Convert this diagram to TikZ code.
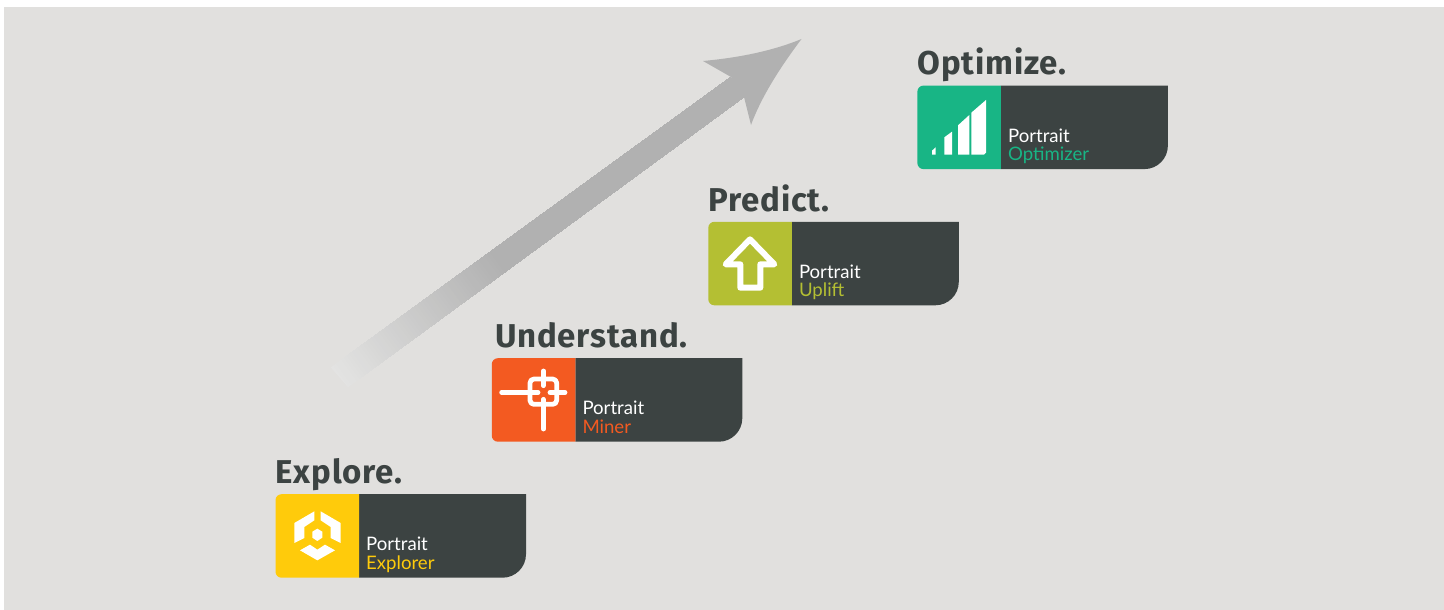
\documentclass[tikz,border=0pt]{standalone}
\usepackage{fontspec}
\setmainfont{Lato}
\newfontfamily\headfont{Fira Sans}[LetterSpace=2.5]
\newfontfamily\prodfont{Lato}
\definecolor{pagebg}{HTML}{E1E0DE}
\definecolor{slate}{HTML}{3C4342}
\definecolor{arrowgrey}{HTML}{B1B1B1}
\definecolor{arrowtail}{HTML}{E4E4E3}
\definecolor{cexplore}{HTML}{FFCB0B}
\definecolor{cminer}{HTML}{F35A21}
\definecolor{cuplift}{HTML}{B4BF33}
\definecolor{coptim}{HTML}{18B585}
\tikzset{
  headlabel/.style={anchor=base west,inner sep=0pt,text=slate,font=\headfont\bfseries\fontsize{33}{36}\selectfont},
  prodlabel/.style={anchor=base west,inner sep=0pt,font=\prodfont\fontsize{18.6}{22}\selectfont},
  iconfill/.style={fill=white,draw=none},
  iconline/.style={draw=white,line width=4.8pt,line cap=round,line join=round},
}
% #1 name, #2 x, #3 y, #4 colour, #5 heading, #6 product, #7 heading x offset
\newcommand{\stepcard}[7]{%
  \begin{scope}[shift={(#2,#3)}]
    \fill[slate] (83.5,0) -- (250.5,0) -- (250.5,60) .. controls (250.5,73) and (240,83.5) .. (227,83.5) -- (83.5,83.5) -- cycle;
    \fill[#4] (83.5,0) -- (83.5,83.5) -- (6,83.5) .. controls (2.7,83.5) and (0,80.8) .. (0,77.5) -- (0,6) .. controls (0,2.7) and (2.7,0) .. (6,0) -- cycle;
    \node[headlabel] (#1-head) at (#7,-10.6) {#5};
    \node[prodlabel,text=white] (#1-brand) at (90.5,56.5) {Portrait};
    \node[prodlabel,text=#4] (#1-product) at (90.5,75) {#6};
  \end{scope}}
\begin{document}
\begin{tikzpicture}[x=1pt,y=-1pt]
\useasboundingbox (0,0) rectangle (1444,610);
\fill[white] (0,0) rectangle (1444,610);
\fill[pagebg] (4,7) rectangle (1444,610);
% arrow shaft, fading towards the tail
\begin{scope}
  \clip (331,367.5) -- (731,77) -- (744,97) -- (348,387) -- cycle;
  \foreach \i in {0,...,60}{
    \pgfmathsetmacro{\s}{\i/60*200-5}
    \pgfmathsetmacro{\m}{100*\i/60}
    \pgfmathsetmacro{\px}{340+0.808*\s}
    \pgfmathsetmacro{\py}{377-0.589*\s}
    \fill[arrowgrey!\m!arrowtail] ({\px-30*0.589},{\py-30*0.808}) -- ({\px+30*0.589},{\py+30*0.808}) -- ({737.5+30*0.589},{87+30*0.808}) -- ({737.5-30*0.589},{87-30*0.808}) -- cycle;
  }
\end{scope}
\fill[arrowgrey] (801.5,39) .. controls (770,52) and (735,58) .. (703,61) -- (731,77) -- (744,97) -- (751,125) .. controls (762,95) and (782,65) .. cycle;
\stepcard{explore}{275.5}{494.2}{cexplore}{Explore.}{Explorer}{0}
\stepcard{miner}{491.8}{358.2}{cminer}{Understand.}{Miner}{3}
\stepcard{uplift}{708.3}{221.8}{cuplift}{Predict.}{Uplift}{0}
\stepcard{optim}{917.4}{85.6}{coptim}{Optimize.}{Optimizer}{0}
% Explorer icon
\begin{scope}[shift={(265,450)},x=1/3*1pt,y=-1/3*1pt]
  \fill[iconfill] (148,184) -- (148,211) -- (118,231) -- (118,264) -- (88,279) -- (88,219) -- cycle;
  \fill[iconfill] (167,184) -- (167,211) -- (197,231) -- (197,264) -- (227,279) -- (227,219) -- cycle;
  \fill[iconfill] (157,236) -- (172,245) -- (172,263) -- (157,273) -- (142,263) -- (142,245) -- cycle;
  \fill[iconfill] (105,301) -- (135,284) -- (157,299) -- (180,284) -- (210,301) -- (157,331) -- cycle;
\end{scope}
% Miner icon
\begin{scope}[shift={(485,315)},x=1/3*1pt,y=-1/3*1pt]
  \draw[iconline] (50,232) -- (159,232) (195,232) -- (240,232) (175,168) -- (175,212) (175,253) -- (175,342);
  \draw[iconline,rounded corners=4pt] (135,192) rectangle (215,268);
\end{scope}
% Uplift icon
\begin{scope}[shift={(700,178)},x=1/3*1pt,y=-1/3*1pt]
  \draw[iconline,line width=6pt] (150,184) -- (223,259) -- (181,259) -- (181,329) -- (121,329) -- (121,259) -- (77,259) -- cycle;
\end{scope}
% Optimizer icon
\begin{scope}[shift={(908,40)},x=1/3*1pt,y=-1/3*1pt]
  \fill[iconfill] (72,344) -- (72,332) -- (83,322) -- (83,344) -- cycle;
  \fill[iconfill] (109,344) -- (109,292) -- (132,275) -- (132,344) -- cycle;
  \fill[iconfill] (150,344) -- (150,256) -- (184,225) -- (184,344) -- cycle;
  \fill[iconfill] (190,344) -- (190,218) -- (234,180) -- (234,338) -- (228,344) -- cycle;
\end{scope}
\end{tikzpicture}
\end{document}
